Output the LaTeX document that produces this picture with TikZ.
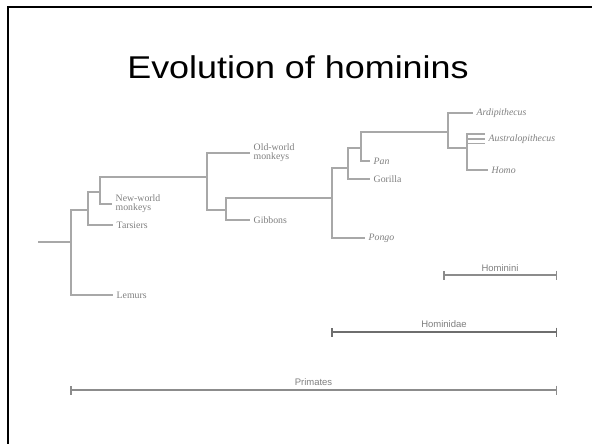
\documentclass[tikz,border=0pt]{standalone}
\usepackage{fontspec}
\setmainfont{Liberation Serif}
\newfontfamily\slidefont{Liberation Sans}
\usetikzlibrary{arrows.meta}
\definecolor{treegray}{HTML}{A8A8A8}
\definecolor{labelgray}{HTML}{808080}
\definecolor{bargray}{HTML}{8C8C8C}
\definecolor{bardark}{HTML}{6E6E6E}
\begin{document}
\begin{tikzpicture}[x=1pt,y=-1pt,
  branch/.style={draw=treegray, line width=1.9pt},
  taxon/.style={anchor=west, inner sep=3.5pt, text=labelgray,
    font=\fontsize{9.8}{9}\selectfont, align=left},
  genus/.style={taxon, font=\fontsize{9.8}{9}\selectfont\itshape},
  cladebar/.style={draw=bargray, line width=1.8pt,
    {Bar[width=9pt,line width=1.5pt]}-{Bar[width=9pt,line width=1.5pt]}},
  cladename/.style={above, inner sep=3pt, text=labelgray,
    font=\slidefont\fontsize{9.5}{9.5}\selectfont}
]
\useasboundingbox (0,0) rectangle (592,444);
\clip (0,0) rectangle (592,444);
\fill[white] (0,0) rectangle (592,444);

% slide frame
\draw[line width=2pt] (7.5,460) -- (7.5,7.5) -- (610,7.5);

% title
\node[font=\slidefont\fontsize{31.5}{31.5}\selectfont, anchor=base, xscale=1.14] (title) at (298,79) {Evolution of hominins};

% internal nodes of the tree
\coordinate (root) at (38,242);
\coordinate (n1) at (71,242);
\coordinate (n2) at (88,210);
\coordinate (n3) at (100,192);
\coordinate (n4) at (207,177);
\coordinate (n5) at (226,210);
\coordinate (n6) at (332,198);
\coordinate (n7) at (348,168);
\coordinate (n8) at (361,148);
\coordinate (n9) at (448,132);
\coordinate (n10) at (467,148);

% leaves
\node[taxon] (lemurs) at (113,295) {Lemurs};
\node[taxon] (tarsiers) at (113,225) {Tarsiers};
\node[taxon] (nwm) at (112,204) {New-world\\monkeys};
\node[taxon] (owm) at (250,153) {Old-world\\monkeys};
\node[taxon] (gibbons) at (250,220) {Gibbons};
\node[genus] (pongo) at (365,238) {Pongo};
\node[taxon] (gorilla) at (370,179) {Gorilla};
\node[genus] (pan) at (370,161) {Pan};
\node[genus] (ardi) at (473,113) {Ardipithecus};
\node[genus] (austr) at (485,139) {Australopithecus};
\node[genus] (homo) at (488,170) {Homo};
\coordinate (au1) at (485,134);
\coordinate (au2) at (485,139);
\coordinate (au3) at (485,143.5);

% branches
\draw[branch] (root) -- (n1);
\draw[branch] (n1) |- (lemurs.west);
\draw[branch] (n1) |- (n2);
\draw[branch] (n2) |- (tarsiers.west);
\draw[branch] (n2) |- (n3);
\draw[branch] (n3) |- (nwm.west);
\draw[branch] (n3) |- (n4);
\draw[branch] (n4) |- (owm.west);
\draw[branch] (n4) |- (n5);
\draw[branch] (n5) |- (gibbons.west);
\draw[branch] (n5) |- (n6);
\draw[branch] (n6) |- (pongo.west);
\draw[branch] (n6) |- (n7);
\draw[branch] (n7) |- (gorilla.west);
\draw[branch] (n7) |- (n8);
\draw[branch] (n8) |- (pan.west);
\draw[branch] (n8) |- (n9);
\draw[branch] (n9) |- (ardi.west);
\draw[branch] (n9) |- (n10);
\draw[branch] (n10) |- (homo.west);
\draw[branch] (n10) |- (au1);
\draw[branch] (n10 |- au2) -- (au2);
\draw[branch] (n10 |- au3) -- (au3);

% clade spans
\coordinate (hini-a) at (443,275);
\coordinate (hini-b) at (557,275);
\coordinate (hdae-a) at (331,332);
\coordinate (hdae-b) at (557,332);
\coordinate (prim-a) at (70,390);
\coordinate (prim-b) at (557,390);
\draw[cladebar] (hini-a) -- (hini-b) node[midway, cladename] (hini) {Hominini};
\draw[cladebar, line width=2.4pt, draw=bardark] (hdae-a) -- (hdae-b) node[midway, cladename] (hdae) {Hominidae};
\draw[cladebar, line width=2.2pt] (prim-a) -- (prim-b) node[midway, cladename] (prim) {Primates};
\end{tikzpicture}
\end{document}
